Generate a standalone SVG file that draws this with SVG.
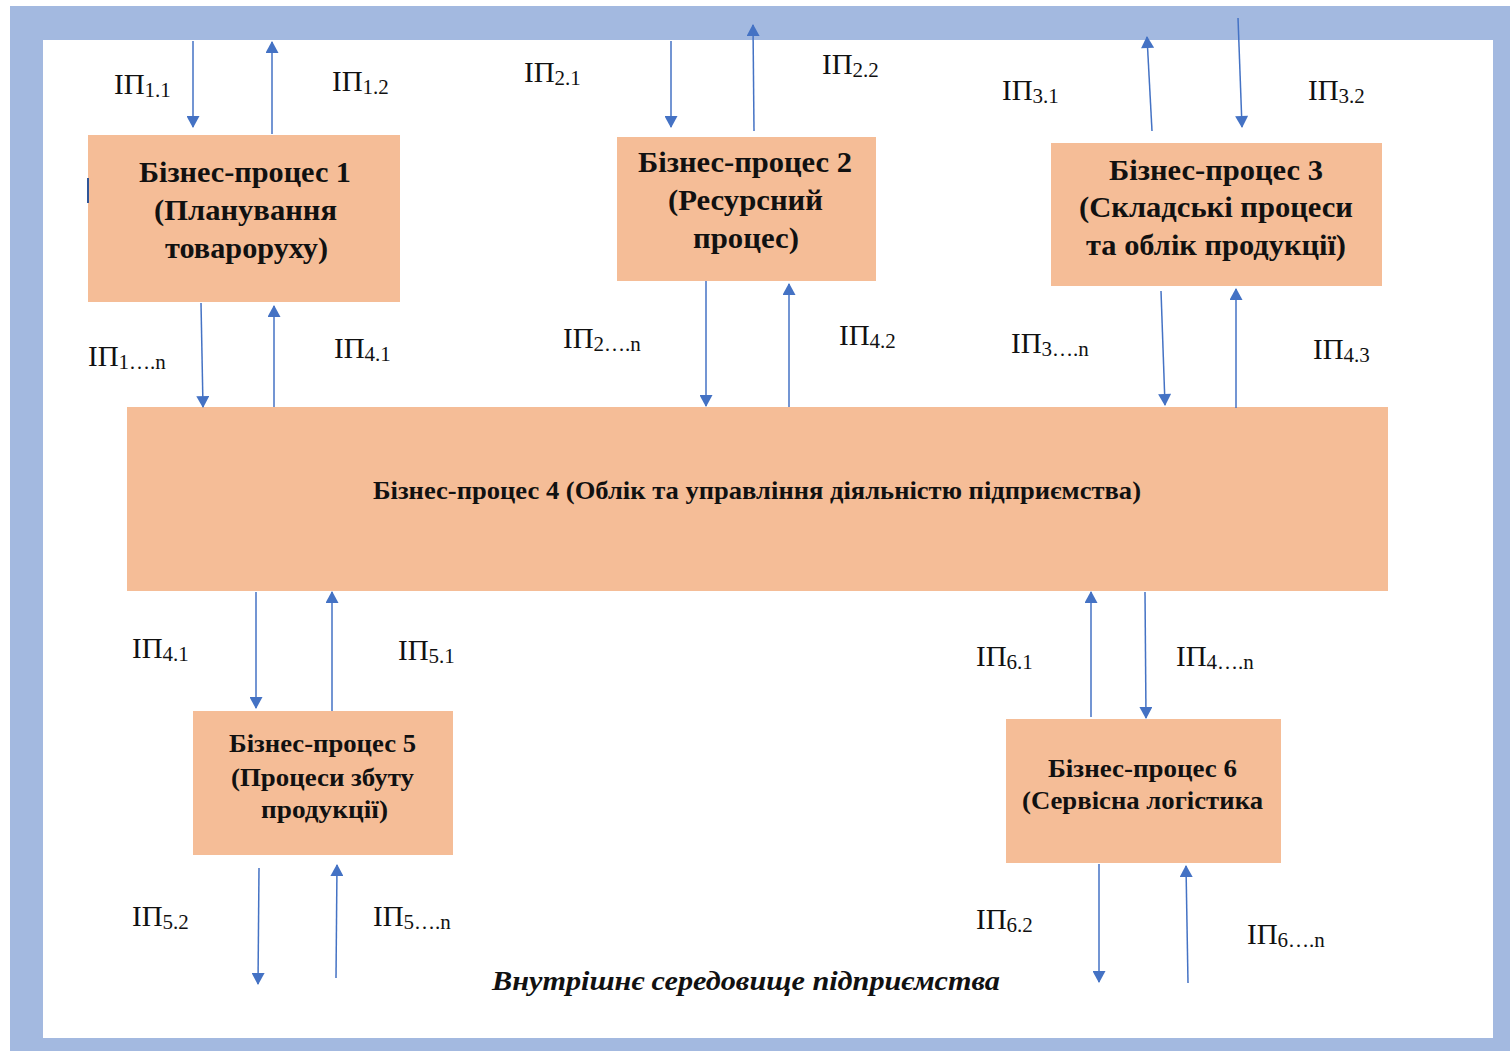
<svg xmlns="http://www.w3.org/2000/svg" width="1510" height="1051" viewBox="0 0 1510 1051">
  <style>
    .box { fill: #F5BD97; }
    .bt { font-family: "Liberation Serif", "Times New Roman", serif; font-weight: bold; fill: #111; text-anchor: middle; }
    .big { font-size: 29.5px; }
    .mid { font-size: 26px; }
    .lbl { font-family: "Liberation Serif", "Times New Roman", serif; font-size: 29px; fill: #111; }
    .sub { font-size: 21px; }
    .conn line { stroke: #4472C4; stroke-width: 1.5; fill: none; marker-end: url(#ah); }
  </style>
  <defs>
    <marker id="ah" markerUnits="userSpaceOnUse" markerWidth="13" markerHeight="13" viewBox="0 0 12 13" refX="11" refY="6.5" orient="auto">
      <path d="M0,0 L12,6.5 L0,13 z" fill="#4472C4"/>
    </marker>
  </defs>

  <rect x="0" y="0" width="1510" height="1051" fill="#ffffff"/>
  <path id="frame" d="M10,6 H1510 V1051 H10 Z M43,40 V1038 H1493 V40 Z" fill="#A3B9E0" fill-rule="evenodd"/>

  <g id="bp1">
    <rect class="box" x="88" y="135" width="312" height="167"/>
    <rect x="87" y="178" width="2" height="25" fill="#2F5597"/>
    <text class="bt big" x="245" y="182" textLength="212" lengthAdjust="spacingAndGlyphs">Бізнес-процес 1</text>
    <text class="bt big" x="245.5" y="220" textLength="183" lengthAdjust="spacingAndGlyphs">(Планування</text>
    <text class="bt big" x="246.5" y="258" textLength="163" lengthAdjust="spacingAndGlyphs">товароруху)</text>
  </g>

  <g id="bp2">
    <rect class="box" x="617" y="137" width="259" height="144"/>
    <text class="bt big" x="745" y="172" textLength="214" lengthAdjust="spacingAndGlyphs">Бізнес-процес 2</text>
    <text class="bt big" x="745.5" y="210" textLength="155" lengthAdjust="spacingAndGlyphs">(Ресурсний</text>
    <text class="bt big" x="746" y="248" textLength="106" lengthAdjust="spacingAndGlyphs">процес)</text>
  </g>

  <g id="bp3">
    <rect class="box" x="1051" y="143" width="331" height="143"/>
    <text class="bt big" x="1216" y="180" textLength="214" lengthAdjust="spacingAndGlyphs">Бізнес-процес 3</text>
    <text class="bt big" x="1216" y="217" textLength="274" lengthAdjust="spacingAndGlyphs">(Складські процеси</text>
    <text class="bt big" x="1216" y="255" textLength="260" lengthAdjust="spacingAndGlyphs">та облік продукції)</text>
  </g>

  <g id="bp4">
    <rect class="box" x="127" y="407" width="1261" height="184"/>
    <text class="bt" font-size="25" x="757" y="499" textLength="768" lengthAdjust="spacingAndGlyphs">Бізнес-процес 4 (Облік та управління діяльністю підприємства)</text>
  </g>

  <g id="bp5">
    <rect class="box" x="193" y="711" width="260" height="144"/>
    <text class="bt mid" x="322.5" y="752" textLength="187" lengthAdjust="spacingAndGlyphs">Бізнес-процес 5</text>
    <text class="bt mid" x="322.5" y="786" textLength="183" lengthAdjust="spacingAndGlyphs">(Процеси збуту</text>
    <text class="bt mid" x="324.5" y="818" textLength="127" lengthAdjust="spacingAndGlyphs">продукції)</text>
  </g>

  <g id="bp6">
    <rect class="box" x="1006" y="719" width="275" height="144"/>
    <text class="bt mid" x="1142.5" y="777" textLength="189" lengthAdjust="spacingAndGlyphs">Бізнес-процес 6</text>
    <text class="bt mid" x="1142.5" y="809" textLength="241" lengthAdjust="spacingAndGlyphs">(Сервісна логістика</text>
  </g>

  <g id="connectors" class="conn">
    <line x1="193" y1="41" x2="193" y2="127"/>
    <line x1="272" y1="134" x2="272" y2="42"/>
    <line x1="201" y1="303" x2="203" y2="407"/>
    <line x1="274" y1="407" x2="274" y2="306"/>
    <line x1="671" y1="41" x2="671" y2="127"/>
    <line x1="754" y1="131" x2="753" y2="25"/>
    <line x1="706" y1="281" x2="706" y2="406"/>
    <line x1="789" y1="407" x2="789" y2="284"/>
    <line x1="1152" y1="131" x2="1147" y2="37"/>
    <line x1="1238" y1="18" x2="1242" y2="127"/>
    <line x1="1161" y1="291" x2="1165" y2="405"/>
    <line x1="1236" y1="408" x2="1236" y2="289"/>
    <line x1="256" y1="592" x2="256" y2="708"/>
    <line x1="332" y1="711" x2="332" y2="592"/>
    <line x1="259" y1="868" x2="258" y2="984"/>
    <line x1="336" y1="978" x2="337" y2="865"/>
    <line x1="1091" y1="717" x2="1091" y2="592"/>
    <line x1="1145" y1="592" x2="1146" y2="718"/>
    <line x1="1099" y1="864" x2="1099" y2="982"/>
    <line x1="1188" y1="983" x2="1186" y2="866"/>
  </g>

  <g id="labels">
    <text class="lbl" x="114" y="94">ІП<tspan class="sub" dy="3">1.1</tspan></text>
    <text class="lbl" x="332" y="91">ІП<tspan class="sub" dy="3">1.2</tspan></text>
    <text class="lbl" x="524" y="82">ІП<tspan class="sub" dy="3">2.1</tspan></text>
    <text class="lbl" x="822" y="74">ІП<tspan class="sub" dy="3">2.2</tspan></text>
    <text class="lbl" x="1002" y="100">ІП<tspan class="sub" dy="3">3.1</tspan></text>
    <text class="lbl" x="1308" y="100">ІП<tspan class="sub" dy="3">3.2</tspan></text>
    <text class="lbl" x="88" y="366">ІП<tspan class="sub" dy="3">1….n</tspan></text>
    <text class="lbl" x="334" y="358">ІП<tspan class="sub" dy="3">4.1</tspan></text>
    <text class="lbl" x="563" y="348">ІП<tspan class="sub" dy="3">2….n</tspan></text>
    <text class="lbl" x="839" y="345">ІП<tspan class="sub" dy="3">4.2</tspan></text>
    <text class="lbl" x="1011" y="353">ІП<tspan class="sub" dy="3">3….n</tspan></text>
    <text class="lbl" x="1313" y="359">ІП<tspan class="sub" dy="3">4.3</tspan></text>
    <text class="lbl" x="132" y="658">ІП<tspan class="sub" dy="3">4.1</tspan></text>
    <text class="lbl" x="398" y="660">ІП<tspan class="sub" dy="3">5.1</tspan></text>
    <text class="lbl" x="976" y="666">ІП<tspan class="sub" dy="3">6.1</tspan></text>
    <text class="lbl" x="1176" y="666">ІП<tspan class="sub" dy="3">4….n</tspan></text>
    <text class="lbl" x="132" y="926">ІП<tspan class="sub" dy="3">5.2</tspan></text>
    <text class="lbl" x="373" y="926">ІП<tspan class="sub" dy="3">5….n</tspan></text>
    <text class="lbl" x="976" y="929">ІП<tspan class="sub" dy="3">6.2</tspan></text>
    <text class="lbl" x="1247" y="944">ІП<tspan class="sub" dy="3">6….n</tspan></text>
  </g>

  <text id="env" x="492" y="990" font-family="Liberation Serif, Times New Roman, serif" font-size="27" font-weight="bold" font-style="italic" fill="#111" textLength="508" lengthAdjust="spacingAndGlyphs">Внутрішнє середовище підприємства</text>
</svg>
